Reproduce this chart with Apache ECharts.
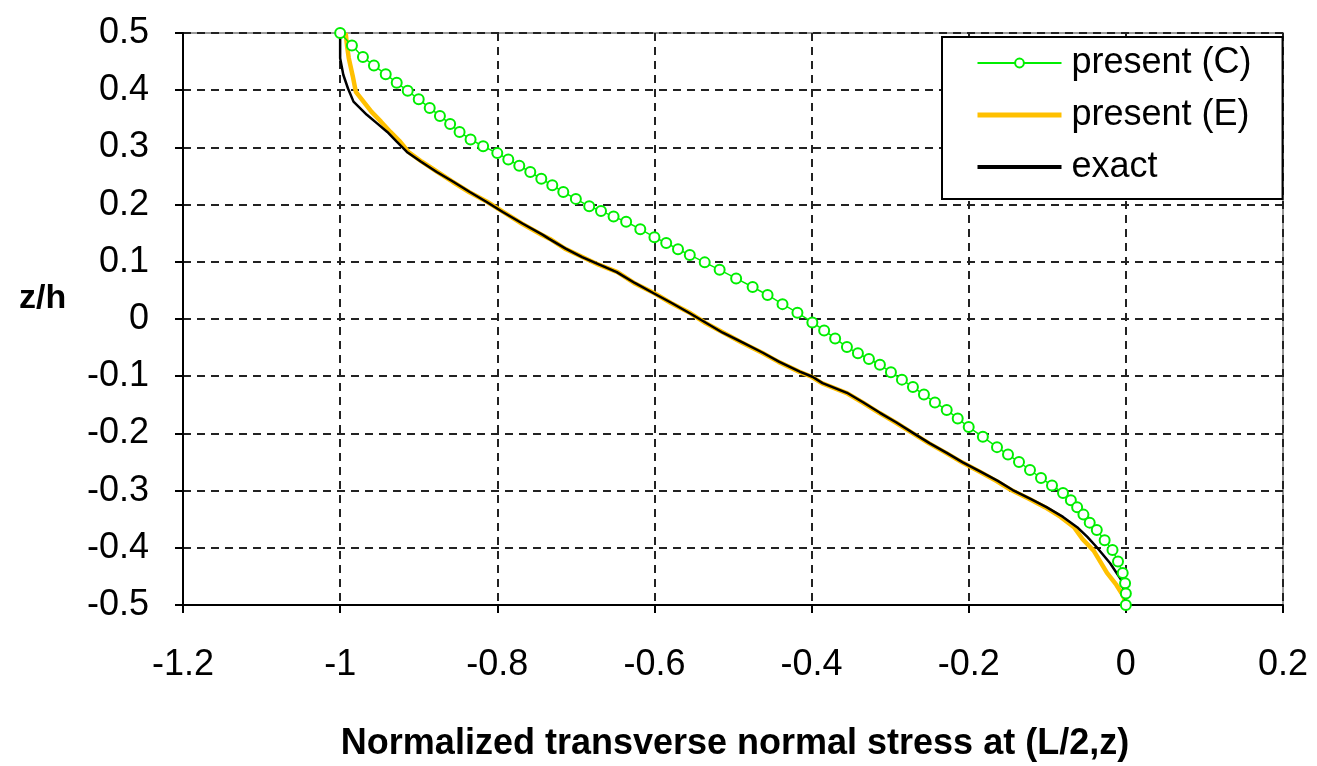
<!DOCTYPE html>
<html>
<head>
<meta charset="utf-8">
<title>Normalized transverse normal stress</title>
<script src="https://cdn.jsdelivr.net/npm/echarts@6/dist/echarts.min.js"></script>
<style>
  html, body { margin: 0; padding: 0; background: #fff; }
  #chart { width: 1317px; height: 766px; }
</style>
</head>
<body>
<div id="chart"></div>
<script>
// Transverse normal stress through the thickness at x = L/2.
// Each series: stress values (x) and thickness coordinate z/h (y).

const presentC_x = [-1.000, -0.985, -0.971, -0.957, -0.942, -0.928, -0.914, -0.900, -0.886, -0.873,
  -0.860, -0.848, -0.834, -0.818, -0.800, -0.786, -0.772, -0.758, -0.744, -0.730,
  -0.716, -0.700, -0.683, -0.668, -0.652, -0.636, -0.618, -0.600, -0.585, -0.570,
  -0.555, -0.536, -0.517, -0.496, -0.475, -0.456, -0.437, -0.418, -0.399, -0.384,
  -0.370, -0.355, -0.341, -0.327, -0.313, -0.299, -0.285, -0.271, -0.257, -0.243,
  -0.228, -0.214, -0.200, -0.182, -0.164, -0.150, -0.136, -0.122, -0.108, -0.094,
  -0.080, -0.070, -0.062, -0.054, -0.046, -0.037, -0.027, -0.017, -0.010, -0.004,
  -0.001, 0.000, 0.000];
const presentC_z = [0.500, 0.478, 0.458, 0.443, 0.428, 0.413, 0.399, 0.384, 0.369, 0.355,
  0.341, 0.327, 0.314, 0.302, 0.290, 0.279, 0.268, 0.257, 0.245, 0.234,
  0.222, 0.210, 0.197, 0.189, 0.179, 0.170, 0.157, 0.143, 0.133, 0.122,
  0.112, 0.099, 0.086, 0.071, 0.056, 0.042, 0.026, 0.011, -0.006, -0.020,
  -0.034, -0.049, -0.060, -0.070, -0.080, -0.093, -0.106, -0.119, -0.132, -0.146,
  -0.159, -0.174, -0.189, -0.206, -0.224, -0.237, -0.250, -0.264, -0.278, -0.291,
  -0.304, -0.317, -0.329, -0.342, -0.356, -0.369, -0.387, -0.404, -0.424, -0.444,
  -0.462, -0.480, -0.500];

const presentE_x = [-0.993, -0.991, -0.989, -0.984, -0.980, -0.960, -0.948, -0.936, -0.925, -0.913,
  -0.896, -0.876, -0.857, -0.836, -0.813, -0.792, -0.769, -0.743, -0.733, -0.714,
  -0.691, -0.671, -0.647, -0.626, -0.600, -0.579, -0.554, -0.535, -0.512, -0.489,
  -0.463, -0.442, -0.416, -0.400, -0.387, -0.356, -0.335, -0.314, -0.293, -0.272,
  -0.251, -0.229, -0.208, -0.186, -0.165, -0.146, -0.124, -0.103, -0.083, -0.066,
  -0.055, -0.041, -0.024, -0.012, -0.003, 0.000];
const presentE_z = [0.500, 0.475, 0.456, 0.425, 0.397, 0.362, 0.345, 0.327, 0.312, 0.292,
  0.275, 0.257, 0.240, 0.222, 0.205, 0.187, 0.167, 0.147, 0.140, 0.123,
  0.108, 0.095, 0.082, 0.063, 0.045, 0.028, 0.010, -0.007, -0.024, -0.041,
  -0.059, -0.075, -0.092, -0.101, -0.112, -0.129, -0.146, -0.164, -0.181, -0.199,
  -0.217, -0.234, -0.251, -0.267, -0.283, -0.299, -0.314, -0.329, -0.346, -0.364,
  -0.385, -0.405, -0.444, -0.465, -0.485, -0.500];

const exact_x = [-1.000, -1.000, -1.000, -0.996, -0.990, -0.983, -0.966, -0.953, -0.940, -0.928,
  -0.915, -0.897, -0.877, -0.856, -0.835, -0.814, -0.793, -0.768, -0.742, -0.734,
  -0.713, -0.692, -0.670, -0.648, -0.625, -0.601, -0.578, -0.555, -0.534, -0.513,
  -0.488, -0.462, -0.441, -0.415, -0.399, -0.386, -0.355, -0.334, -0.313, -0.292,
  -0.271, -0.250, -0.228, -0.207, -0.185, -0.163, -0.144, -0.122, -0.101, -0.080,
  -0.062, -0.049, -0.037, -0.020, -0.006, -0.002, 0.000];
const exact_z = [0.500, 0.475, 0.456, 0.427, 0.403, 0.380, 0.357, 0.342, 0.327, 0.310,
  0.292, 0.275, 0.257, 0.240, 0.222, 0.205, 0.187, 0.167, 0.147, 0.140,
  0.123, 0.108, 0.095, 0.082, 0.063, 0.045, 0.028, 0.010, -0.007, -0.024,
  -0.041, -0.059, -0.075, -0.092, -0.101, -0.112, -0.129, -0.146, -0.164, -0.181,
  -0.199, -0.217, -0.234, -0.251, -0.267, -0.283, -0.299, -0.314, -0.329, -0.346,
  -0.364, -0.381, -0.399, -0.427, -0.456, -0.480, -0.500];

const seriesNames = ['present (C)', 'present (E)', 'exact'];
const xTitle = 'Normalized transverse normal stress at (L/2,z)';
const yTitle = 'z/h';

function pairs(xs, zs) { return xs.map((v, i) => [v, zs[i]]); }

const FONT = 'Liberation Sans, Arial, sans-serif';
const GREEN = '#00ee00';
const ORANGE = '#ffc000';
const chart = echarts.init(document.getElementById('chart'), null, { renderer: 'canvas' });

function gridLine() {
  return { show: true, lineStyle: { color: '#222', width: 2, type: [8, 6] } };
}

chart.setOption({
  backgroundColor: '#fff',
  animation: false,
  grid: {
    left: 183, right: 34, top: 33, bottom: 161,
    show: true, borderColor: '#9a9a9a', borderWidth: 2, backgroundColor: 'transparent'
  },
  xAxis: {
    type: 'value', min: -1.2, max: 0.2, interval: 0.2,
    axisLine: { show: true, onZero: false, lineStyle: { color: '#000', width: 2 } },
    axisTick: { show: true, length: 8, lineStyle: { color: '#000', width: 2 } },
    axisLabel: { color: '#000', fontFamily: FONT, fontSize: 36, margin: 42 },
    splitLine: gridLine()
  },
  yAxis: {
    type: 'value', min: -0.5, max: 0.5, interval: 0.1,
    axisLine: { show: true, onZero: false, lineStyle: { color: '#000', width: 2 } },
    axisTick: { show: true, length: 8, lineStyle: { color: '#000', width: 2 } },
    axisLabel: { color: '#000', fontFamily: FONT, fontSize: 36, margin: 34 },
    splitLine: gridLine()
  },
  legend: {
    data: [
      { name: seriesNames[0], lineStyle: { width: 2 } },
      { name: seriesNames[1], itemStyle: { opacity: 0 }, lineStyle: { width: 5 } },
      { name: seriesNames[2], itemStyle: { opacity: 0 }, lineStyle: { width: 4 } }
    ],
    orient: 'vertical',
    left: 942, top: 37,
    padding: [8, 31, 14, 33],
    itemGap: 16,
    itemWidth: 84, itemHeight: 11,
    backgroundColor: '#fff',
    borderColor: '#000', borderWidth: 2,
    textStyle: { color: '#000', fontFamily: FONT, fontSize: 36, padding: [0, 0, 0, 5] }
  },
  graphic: [
    {
      type: 'text', x: 735, y: 726,
      style: { text: xTitle, font: 'bold 36px ' + FONT, fill: '#000', align: 'center' }
    },
    {
      type: 'text', left: 19, top: 282,
      style: { text: yTitle, font: 'bold 34px ' + FONT, fill: '#000' }
    }
  ],
  series: [
    {
      name: seriesNames[0], type: 'line', z: 5,
      data: pairs(presentC_x, presentC_z),
      symbol: 'emptyCircle', symbolSize: 10, showSymbol: true, showAllSymbol: true,
      color: GREEN,
      itemStyle: { color: GREEN, borderColor: GREEN, borderWidth: 2 },
      lineStyle: { color: GREEN, width: 1.5 }
    },
    {
      name: seriesNames[1], type: 'line', z: 3,
      data: pairs(presentE_x, presentE_z),
      symbol: 'none', color: ORANGE,
      lineStyle: { color: ORANGE, width: 4.5 }
    },
    {
      name: seriesNames[2], type: 'line', z: 4,
      data: pairs(exact_x, exact_z),
      symbol: 'none', color: '#000',
      lineStyle: { color: '#000', width: 2.5 }
    }
  ]
});
</script>
</body>
</html>
